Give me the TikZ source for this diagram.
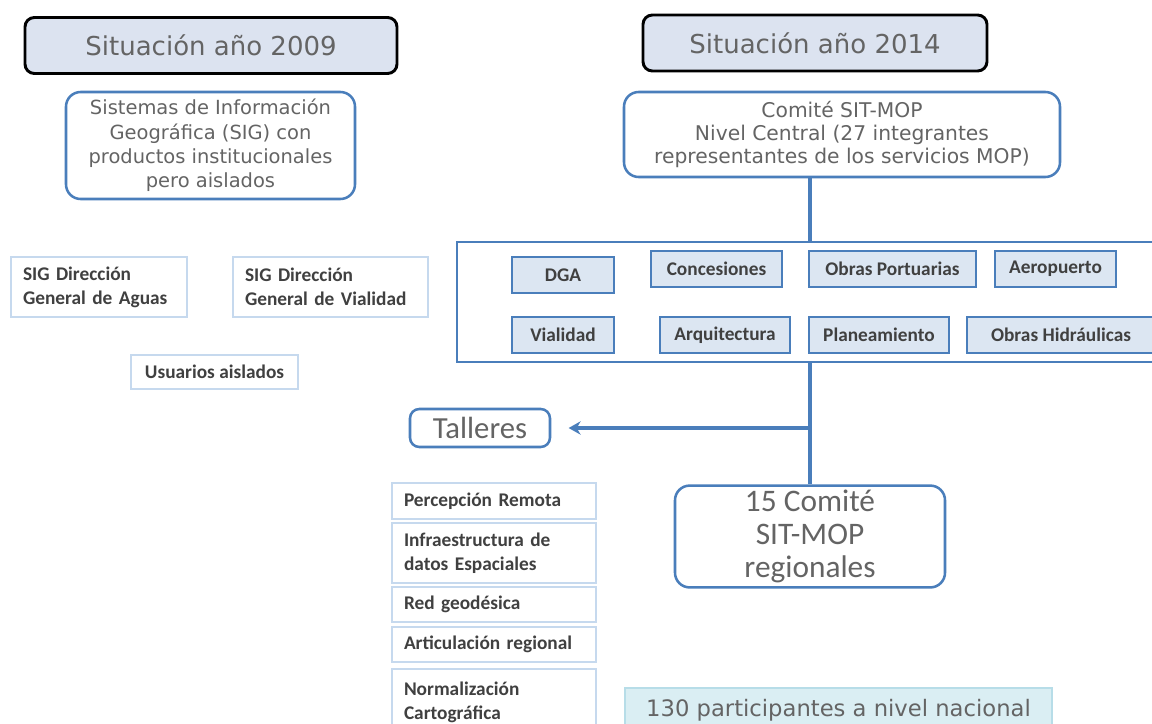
\documentclass[tikz,border=0pt]{standalone}
\usepackage{fontspec}
\usetikzlibrary{calc}
\usetikzlibrary{positioning}
\usetikzlibrary{arrows.meta}
\newfontfamily\verdfont{DejaVu Sans}
\newfontfamily\calfont{Carlito}
\definecolor{mopblue}{RGB}{74,126,187}
\definecolor{titlefill}{RGB}{220,227,240}
\definecolor{boxfill}{RGB}{220,230,242}
\definecolor{paleline}{RGB}{198,217,238}
\definecolor{cyanfill}{RGB}{218,238,243}
\definecolor{cyanline}{RGB}{183,221,232}
\definecolor{textgray}{RGB}{100,100,100}
\definecolor{darkgray}{RGB}{64,64,64}
\tikzstyle{titlenode} = [draw=black, line width=2.2pt, rounded corners=7pt, fill=titlefill, text=textgray, minimum height=42pt, font=\verdfont\fontsize{19.5}{22}\selectfont]
\tikzstyle{roundnode} = [draw=mopblue, line width=1.9pt, rounded corners=11pt, fill=white, text=textgray, align=center]
\tikzstyle{servnode} = [draw=mopblue, line width=1.1pt, fill=boxfill, text=darkgray, minimum height=27pt, font=\calfont\bfseries\fontsize{14.5}{17}\selectfont]
\tikzstyle{palenode} = [draw=paleline, line width=1.5pt, fill=white, text=darkgray, align=left, inner xsep=9pt, font=\calfont\bfseries\fontsize{14.5}{18}\selectfont]
\tikzstyle{link} = [draw=mopblue, line width=2.6pt]

\begin{document}
\begin{tikzpicture}[x=0.75pt, y=-0.75pt]
\useasboundingbox (0,0) rectangle (1152,724);
\clip (0,0) rectangle (1152,724);

\node[titlenode, minimum width=279pt] (title_old) at (211,45.5) {Situación año 2009};
\node[titlenode, minimum width=258pt] (title_new) at (815,43) {Situación año 2014};

\node[roundnode, minimum width=216.75pt, minimum height=80.25pt,
  font=\verdfont\fontsize{14.6}{18.2}\selectfont] (sig_old) at (210.5,145.5)
{Sistemas de Información\\Geográfica (SIG) con\\productos institucionales\\pero aislados};
\node[palenode, text width=114pt, minimum height=45pt] (dga_old) at (99,287)
{SIG Dirección\\General de Aguas};
\node[palenode, text width=128.25pt, minimum height=45pt] (dgv_old) at (330.5,287)
{SIG Dirección\\General de Vialidad};
\node[palenode, align=center, minimum width=125.25pt, minimum height=25.5pt] (users) at (214.5,372)
{Usuarios aislados};

\node[roundnode, minimum width=327pt, minimum height=63.75pt, text depth=3pt,
  font=\verdfont\fontsize{15.2}{17.4}\selectfont] (comite) at (842,134.5)
{Comité SIT-MOP\\Nivel Central (27 integrantes\\representantes de los servicios MOP)};

\node[draw=mopblue, line width=1.5pt, fill=white, minimum width=534.75pt, minimum height=90pt]
  (services) at (813.5,302) {};
\node[servnode, minimum width=76.5pt] (dga) at (563,275) {DGA};
\node[servnode, minimum width=98.25pt] (conc) at (716.5,269) {Concesiones};
\node[servnode, minimum width=125.25pt] (port) at (892.5,269) {Obras Portuarias};
\node[servnode, minimum width=90.75pt] (aero) at (1055.5,269) {Aeropuerto};
\node[servnode, minimum width=76.5pt] (vial) at (563,335) {Vialidad};
\node[servnode, minimum width=97.5pt] (arq) at (725,335) {Arquitectura};
\node[servnode, minimum width=105pt] (plan) at (879,335) {Planeamiento};
\node[servnode, minimum width=141pt] (hidr) at (1061,335) {Obras Hidráulicas};

\node[roundnode, rounded corners=7pt, minimum width=105pt, minimum height=28.5pt,
  font=\calfont\fontsize{23}{26}\selectfont] (talleres) at (480,428) {Talleres};
\node[roundnode, minimum width=202.5pt, minimum height=75.75pt,
  font=\calfont\fontsize{23.5}{24.75}\selectfont] (regional) at (810,536.5)
{15 Comité\\SIT-MOP\\regionales};

\node[palenode, text width=135pt, minimum height=27pt] (perc) at (494,501) {Percepción Remota};
\node[palenode, text width=135pt, minimum height=45pt] (ide) at (494,553)
{Infraestructura de\\datos Espaciales};
\node[palenode, text width=135pt, minimum height=26.25pt] (red) at (494,604.5) {Red geodésica};
\node[palenode, text width=135pt, minimum height=26.25pt] (art) at (494,644.5) {Articulación regional};
\node[palenode, text width=135pt, minimum height=49.5pt] (norm) at (494,702)
{Normalización\\Cartográfica};

\node[draw=cyanline, line width=1.2pt, fill=cyanfill, text=textgray, minimum width=320.25pt,
  minimum height=33pt, font=\verdfont\fontsize{17}{20}\selectfont] (participants) at (838.5,710)
{130 participantes a nivel nacional};

\coordinate (split) at (talleres.east -| regional.north);
\draw[link] (comite.south -| regional.north) -- (services.north -| regional.north);
\draw[link] (services.south -| regional.north) -- (regional.north);
\draw[link, -{Stealth[length=9pt, width=10pt]}, shorten >=13pt] (split) -- (talleres.east);
\end{tikzpicture}
\end{document}
